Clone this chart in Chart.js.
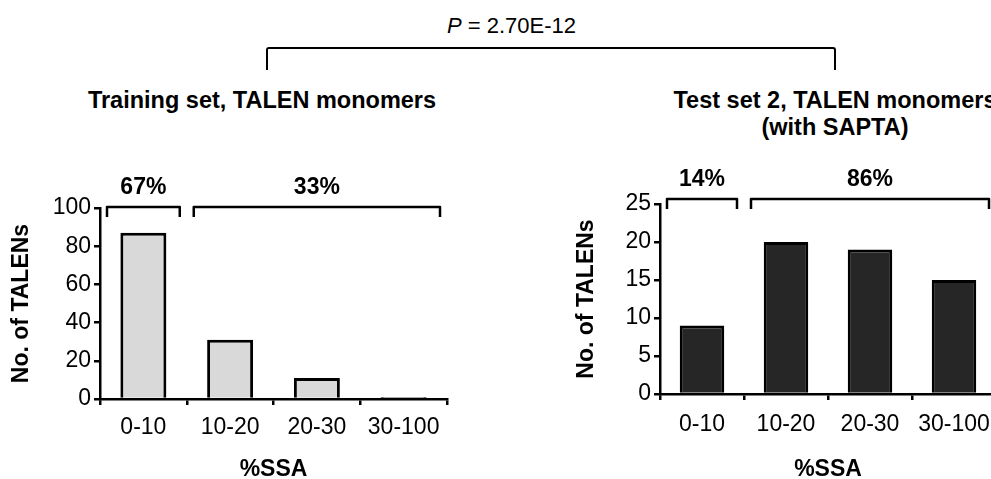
<!DOCTYPE html>
<html>
<head>
<meta charset="utf-8">
<title>%SSA – TALEN monomers</title>
<script src="https://cdn.jsdelivr.net/npm/chart.js@4.4.0/dist/chart.umd.min.js"></script>
<style>
  html, body { margin: 0; padding: 0; background: #fff; }
  body {
    width: 991px; height: 479px; overflow: hidden; position: relative;
    font-family: "Liberation Sans", Arial, sans-serif; color: #000;
  }
  .chart-box { position: absolute; top: 0; height: 479px; }
  #training-box { left: 0; width: 520px; }
  #test-box { left: 540px; width: 480px; }
  .panel-title {
    position: absolute; top: 87px; width: 420px;
    font-weight: bold; font-size: 23.5px; line-height: 27px;
    text-align: center; white-space: nowrap;
  }
  #p-label { position: absolute; left: 447px; top: 13px; font-size: 22px; white-space: nowrap; }
  #p-bracket {
    position: absolute; left: 266px; top: 47px; width: 570px; height: 23px;
    box-sizing: border-box; border: 2.5px solid #000; border-bottom: none;
    border-radius: 3px 3px 0 0;
  }
</style>
</head>
<body>
<div id="p-label"><i>P</i> = 2.70E-12</div>
<div id="p-bracket"></div>
<div class="panel-title" style="left:52px;">Training set, TALEN monomers</div>
<div class="panel-title" style="left:625px;">Test set 2, TALEN monomers<br>(with SAPTA)</div>

<div id="training-box" class="chart-box"><canvas id="training-chart"></canvas></div>
<div id="test-box" class="chart-box"><canvas id="test-chart"></canvas></div>

<script>
// Bins de %SSA y conteos por set
const ssaBins = ['0-10', '10-20', '20-30', '30-100'];
const trainingCounts = [87, 31, 11, 1];
const testCounts = [9, 20, 19, 15];

// Escalas del eje Y
const trainingYMax = 100;
const trainingYStep = 20;
const testYMax = 25;
const testYStep = 5;

// Grupos de bins que se marcan con corchete (desde, hasta)
const groupSpans = [[0, 0], [1, 3]];

const FONT = '"Liberation Sans", Arial, sans-serif';
const TEXT_SIZE = 23;
Chart.defaults.font.family = FONT;
Chart.defaults.color = '#000';

// Porcentaje de cada grupo a partir de los conteos
function buildGroups(counts) {
    const total = counts.reduce((a, b) => a + b, 0);
    return groupSpans.map(([from, to]) => {
        const sum = counts.slice(from, to + 1).reduce((a, b) => a + b, 0);
        return { from, to, label: Math.round(sum / total * 100) + '%' };
    });
}

// Corchetes con porcentaje encima de los bins
const groupBrackets = {
    id: 'groupBrackets',
    afterDraw(chart, args, opts) {
        const { ctx, chartArea, scales: { x } } = chart;
        const half = (x.getPixelForValue(1) - x.getPixelForValue(0)) / 2;
        const y = chartArea.top + opts.offset;
        ctx.save();
        ctx.strokeStyle = '#000';
        ctx.lineWidth = 2.5;
        ctx.lineJoin = 'round';
        ctx.fillStyle = '#000';
        ctx.font = 'bold ' + TEXT_SIZE + 'px ' + FONT;
        ctx.textAlign = 'center';
        ctx.textBaseline = 'middle';
        opts.groups.forEach(g => {
            const x1 = x.getPixelForValue(g.from) - half + opts.inset;
            const x2 = x.getPixelForValue(g.to) + half - opts.inset;
            ctx.beginPath();
            ctx.moveTo(x1, y + opts.leg);
            ctx.lineTo(x1, y);
            ctx.lineTo(x2, y);
            ctx.lineTo(x2, y + opts.leg);
            ctx.stroke();
            ctx.fillText(g.label, (x1 + x2) / 2, y - opts.labelGap);
        });
        ctx.restore();
    }
};

function makeChart(id, counts, fill, cfg) {
    return new Chart(document.getElementById(id), {
        type: 'bar',
        data: {
            labels: ssaBins,
            datasets: [{
                data: counts,
                backgroundColor: fill,
                borderColor: '#000',
                borderWidth: 3,
                borderSkipped: 'start',
                categoryPercentage: 1,
                barPercentage: 0.53
            }]
        },
        options: {
            responsive: true,
            maintainAspectRatio: false,
            animation: false,
            layout: { padding: cfg.padding },
            plugins: {
                legend: { display: false },
                tooltip: { enabled: false },
                groupBrackets: {
                    groups: buildGroups(counts),
                    offset: cfg.bracketOffset,
                    inset: 7,
                    leg: 10,
                    labelGap: 19
                }
            },
            scales: {
                x: {
                    grid: { drawOnChartArea: false, drawTicks: true, tickLength: 6, color: '#000', lineWidth: 2.5 },
                    border: { color: '#000', width: 2.5 },
                    ticks: { font: { size: TEXT_SIZE }, color: '#000', padding: cfg.xTickPad, maxRotation: 0 },
                    title: { display: true, text: '%SSA', font: { size: TEXT_SIZE, weight: 'bold' }, padding: { top: 0, bottom: -4 } },
                    afterFit: s => { s.height = cfg.xHeight; }
                },
                y: {
                    min: 0,
                    max: cfg.yMax,
                    grid: { drawOnChartArea: false, drawTicks: true, tickLength: 6, color: '#000', lineWidth: 2.5 },
                    border: { color: '#000', width: 2.5 },
                    ticks: { stepSize: cfg.yStep, font: { size: TEXT_SIZE }, color: '#000', padding: 3 },
                    title: { display: true, text: 'No. of TALENs', font: { size: TEXT_SIZE, weight: 'bold' }, padding: { top: 0, bottom: 0 } },
                    afterFit: s => { s.width = cfg.yWidth; }
                }
            }
        },
        plugins: [groupBrackets]
    });
}

makeChart('training-chart', trainingCounts, '#d9d9d9', {
    padding: { left: 8, right: 73, top: 208, bottom: 0 },
    yWidth: 92, xHeight: 80, xTickPad: 9,
    yMax: trainingYMax, yStep: trainingYStep,
    bracketOffset: -1
});

makeChart('test-chart', testCounts, '#262626', {
    padding: { left: 33, right: 24, top: 204, bottom: 0 },
    yWidth: 87, xHeight: 85, xTickPad: 11,
    yMax: testYMax, yStep: testYStep,
    bracketOffset: -5
});
</script>
</body>
</html>
